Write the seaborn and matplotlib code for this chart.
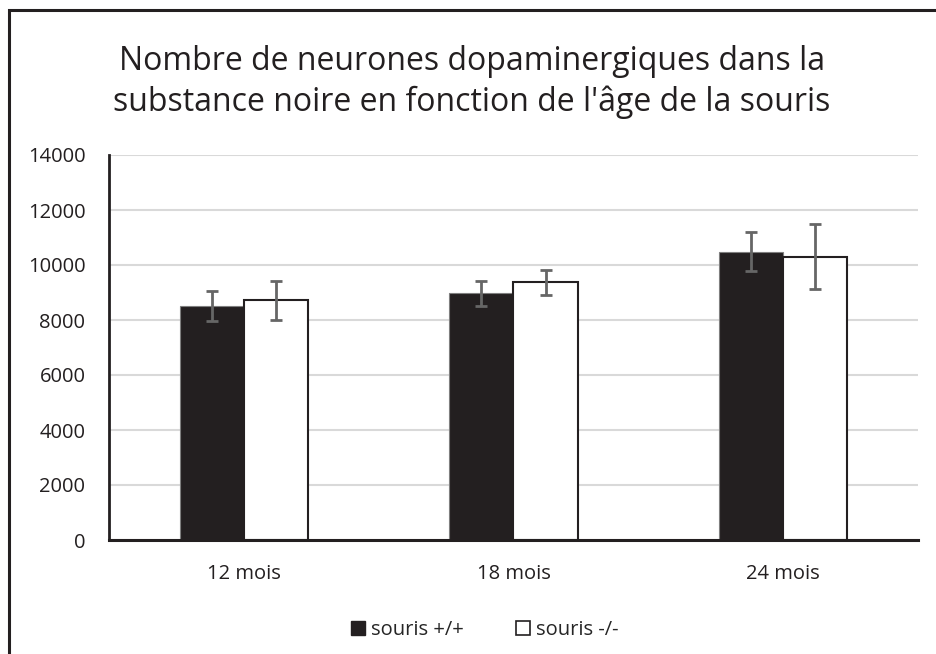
import matplotlib
matplotlib.use("Agg")
import matplotlib.pyplot as plt
import matplotlib.patches as mpatches
import seaborn as sns
import pandas as pd

categories = ["12 mois", "18 mois", "24 mois"]
groups = ["souris +/+", "souris -/-"]
means_wt = [8500, 8970, 10480]
means_ko = [8710, 9370, 10300]
err_wt = [540, 455, 715]
err_ko = [700, 465, 1175]
yticks = [0, 2000, 4000, 6000, 8000, 10000, 12000, 14000]
title = "Nombre de neurones dopaminergiques dans la\nsubstance noire en fonction de l'âge de la souris"

sns.set_theme(style="white")
plt.rcParams['font.family'] = ['Open Sans', 'DejaVu Sans']

df = pd.DataFrame({
    "age": categories * 2,
    "group": [groups[0]] * 3 + [groups[1]] * 3,
    "value": means_wt + means_ko,
})

fig = plt.figure(figsize=(9.37, 6.54), dpi=100)
ax = fig.add_axes([109/937, 1 - 540/654, (918 - 109)/937, (540 - 155)/654])

dark = "#231f20"
sns.barplot(data=df, x="age", y="value", hue="group", order=categories,
            hue_order=groups, palette=[dark, "white"], errorbar=None,
            width=0.475, ax=ax, legend=False, saturation=1)

for cont, errs, ec, lw in zip(ax.containers, [err_wt, err_ko],
                              ["#7f7f7f", dark], [0.8, 1.5]):
    for bar, e in zip(cont, errs):
        bar.set_edgecolor(ec)
        bar.set_linewidth(lw)
        cx = bar.get_x() + bar.get_width() / 2
        ax.errorbar(cx, bar.get_height(), yerr=e, color="#666666",
                    elinewidth=2, capsize=4.5, capthick=2, zorder=5)

ax.set_ylim(0, 14000)
ax.set_xlim(-0.5, 2.5)
ax.set_yticks(yticks)
ax.set_yticklabels([str(t) for t in yticks])
ax.yaxis.grid(True, color="#d9d9d9", linewidth=1.5)
ax.set_axisbelow(True)
ax.set_xlabel("")
ax.set_ylabel("")
for s in ["top", "right"]:
    ax.spines[s].set_visible(False)
ax.spines["left"].set_color(dark)
ax.spines["left"].set_linewidth(2)
ax.spines["bottom"].set_color(dark)
ax.spines["bottom"].set_linewidth(2.2)
ax.tick_params(axis="both", length=0, labelsize=14.5, colors="#231f20")
ax.tick_params(axis="y", pad=17)
ax.tick_params(axis="x", pad=17)

fig.text(472/937, 1 - 82/654, title, ha="center", va="center",
         fontsize=23, color="#231f20", linespacing=1.33)

handles = [mpatches.Patch(facecolor=dark, edgecolor=dark, label=groups[0]),
           mpatches.Patch(facecolor="white", edgecolor=dark, linewidth=1.2, label=groups[1])]
fig.legend(handles=handles, loc="center", bbox_to_anchor=(485/937, 1 - 630/654),
           ncol=2, frameon=False, fontsize=14.5, handlelength=0.7, handleheight=0.7,
           handletextpad=0.3, columnspacing=2.6)

border = mpatches.Rectangle((9/937, -0.2), 2, 1 - 10/654 + 0.2, transform=fig.transFigure,
                            fill=False, edgecolor=dark, linewidth=2.2, clip_on=False)
fig.patches.append(border)

fig.savefig("out.png", dpi=100)
